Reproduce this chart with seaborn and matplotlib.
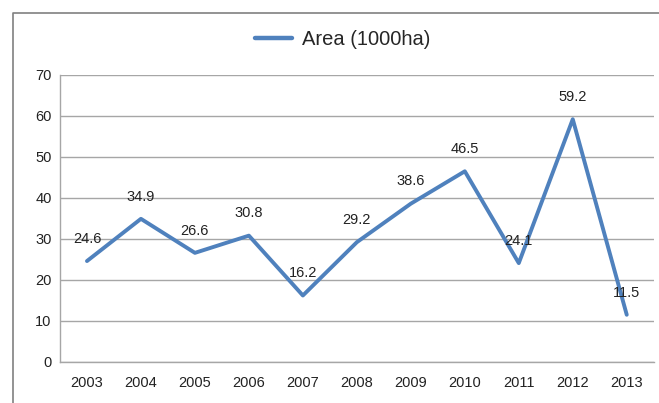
import matplotlib
matplotlib.use("Agg")
import matplotlib.pyplot as plt
from matplotlib.lines import Line2D
import seaborn as sns
import pandas as pd

years = ["2003", "2004", "2005", "2006", "2007", "2008",
         "2009", "2010", "2011", "2012", "2013"]
area = [24.6, 34.9, 26.6, 30.8, 16.2, 29.2, 38.6, 46.5, 24.1, 59.2, 11.5]
series_name = "Area (1000ha)"

df = pd.DataFrame({"Year": years, "Area": area})

sns.set_theme(style="white")
plt.rcParams["font.family"] = ["Liberation Sans", "DejaVu Sans"]

fig = plt.figure(figsize=(6.59, 4.03), dpi=100)
ax = fig.add_axes([0.091, 0.102, 0.901, 0.712])

blue = "#4F81BD"
sns.lineplot(data=df, x="Year", y="Area", ax=ax, color=blue, linewidth=2.8,
             label=series_name, sort=False)

ax.set_xlim(-0.5, len(years) - 0.5)
ax.set_ylim(0, 70)
ax.set_yticks(range(0, 71, 10))
ax.yaxis.grid(True, color="#A6A6A6", linewidth=1.0)
ax.xaxis.grid(False)
ax.set_xlabel("")
ax.set_ylabel("")

for side in ["top", "right"]:
    ax.spines[side].set_visible(False)
for side in ["left", "bottom"]:
    ax.spines[side].set_color("#A6A6A6")
    ax.spines[side].set_linewidth(1.0)

ax.tick_params(axis="both", length=0, labelsize=10.5, colors="#222222")
ax.tick_params(axis="y", pad=6)
ax.tick_params(axis="x", pad=10)

for i, v in enumerate(area):
    ax.annotate(f"{v}", xy=(i, v), xytext=(0, 16), textcoords="offset points",
                ha="center", va="center", fontsize=10.5, color="#222222")

leg = ax.legend(loc="center", bbox_to_anchor=(0.476, 1.122), frameon=False,
                fontsize=14.5, handlelength=1.8, handletextpad=0.5)
for h in leg.get_lines():
    h.set_linewidth(3.2)

# outer chart frame (left and top edges)
x0, y0 = 13 / 659, 1 - 13 / 403
fig.add_artist(Line2D([x0, x0, 1.0], [0.0, y0, y0], transform=fig.transFigure,
                      color="#808080", linewidth=1.2))

fig.savefig("out.png", dpi=100)
